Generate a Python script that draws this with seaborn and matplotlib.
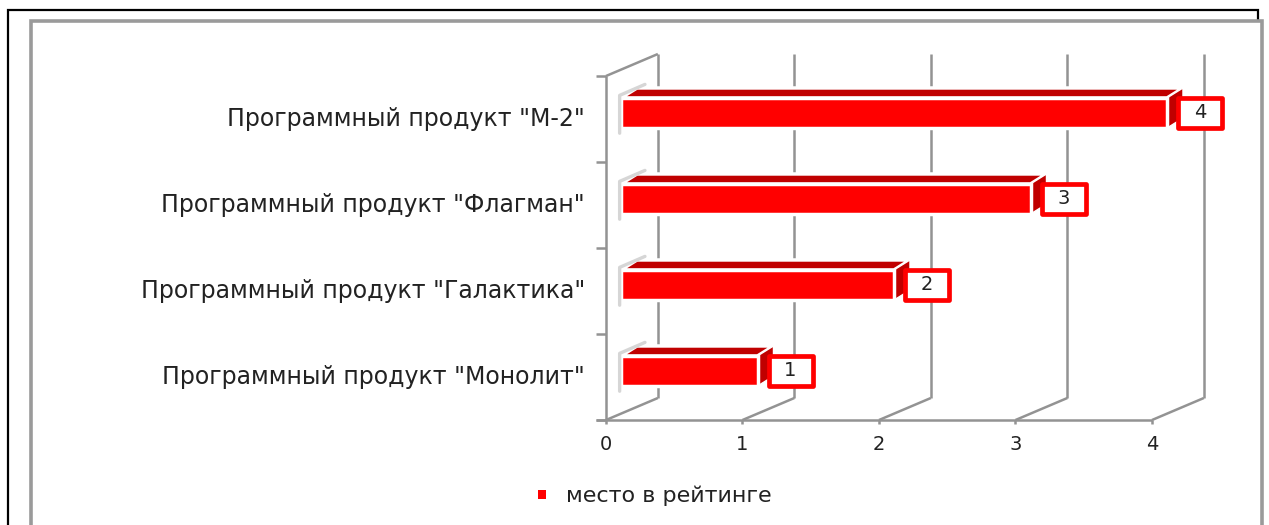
import matplotlib
matplotlib.use("Agg")
import matplotlib.pyplot as plt
import seaborn as sns
import pandas as pd
from matplotlib.patches import Rectangle, Polygon

# ---- data -------------------------------------------------------------
products = [
    'Программный продукт "М-2"',
    'Программный продукт "Флагман"',
    'Программный продукт "Галактика"',
    'Программный продукт "Монолит"',
]
rank = [4, 3, 2, 1]
x_ticks = [0, 1, 2, 3, 4]
series_name = "место в рейтинге"

# ---- styling ----------------------------------------------------------
W, H = 1269, 525
RED = "#FF0000"
DARK_RED = "#C00000"
GRID = "#939393"
TEXT = "#222222"

sns.set_theme(style="white")
plt.rcParams["font.family"] = ["DejaVu Sans"]

fig = plt.figure(figsize=(W / 100, H / 100), dpi=100)
fig.patch.set_facecolor("white")


def ffrac(x, y):
    """Pixel position (from top-left) to figure fraction."""
    return (x / W, 1 - y / H)


# page border and chart-area frame
fig.add_artist(Rectangle(ffrac(8, 700), (1258 - 8) / W, (700 - 10) / H,
                         transform=fig.transFigure, fill=False,
                         ec="black", lw=1.6, zorder=-10))
fig.add_artist(Rectangle(ffrac(31, 700), (1262 - 31) / W, (700 - 21) / H,
                         transform=fig.transFigure, fc="white",
                         ec="#9a9a9a", lw=2.6, zorder=-9))

ax = fig.add_axes([0, 0, 1, 1])
ax.patch.set_visible(False)

df = pd.DataFrame({"product": products, "rank": rank})
sns.barplot(data=df, x="rank", y="product", orient="h", order=products,
            color=RED, saturation=1, width=0.35, edgecolor="white",
            linewidth=2.5, label=series_name, ax=ax, zorder=4)

# axes scale: value units horizontally, category slots vertically
SX, X0 = 136.5, 621
SY, Y0 = 86.0, 113
ax.set_xlim(-X0 / SX, (W - X0) / SX)
ax.set_ylim((H - Y0) / SY, -Y0 / SY)
ax.set_axis_off()

# pseudo-3D geometry (in data units)
FRONT_SHIFT = -0.11          # front plane of the walls relative to bars
DEPTH_X, DEPTH_Y = 0.38, -0.256   # wall depth vector
BAND_SHIFT = 0.07            # front-plane slot offset
TOP_X, TOP_Y = 0.117, -0.116  # bar top-face depth

n = len(products)
edges = [k - 0.5 + BAND_SHIFT for k in range(n + 1)]
y_top, y_floor = edges[0], edges[-1]

def xf(v):
    return v + FRONT_SHIFT

def xb(v):
    return xf(v) + DEPTH_X

line_kw = dict(color=GRID, lw=1.8, solid_capstyle="butt", zorder=1)

# back-wall vertical gridlines and floor diagonals
for v in x_ticks:
    ax.plot([xb(v), xb(v)], [y_floor + DEPTH_Y, y_top + DEPTH_Y], **line_kw)
    ax.plot([xf(v), xb(v)], [y_floor, y_floor + DEPTH_Y], **line_kw)
    ax.plot([xf(v), xf(v)], [y_floor, y_floor + 0.05], **line_kw)
    ax.text(xf(v), (445 - Y0) / SY, str(v), ha="center", va="center",
            fontsize=14, color=TEXT)

# floor front edge, left wall edge, left ticks, wall top
ax.plot([xf(0) - 0.075, xf(x_ticks[-1])], [y_floor, y_floor], **line_kw)
ax.plot([xf(0), xf(0)], [y_top, y_floor], **line_kw)
for e in edges:
    ax.plot([xf(0) - 0.075, xf(0)], [e, e], **line_kw)
ax.plot([xf(0), xb(0)], [y_top, y_top + DEPTH_Y], **line_kw)

# category labels
for i, name in enumerate(products):
    ax.text((585 - X0) / SX, i + BAND_SHIFT, name, ha="right",
            va="center", fontsize=17, color=TEXT)

# bar depth faces, end caps and value labels
bars = [p for p in ax.patches if isinstance(p, Rectangle)][:n]
for bar, val in zip(bars, rank):
    x0, w = bar.get_x(), bar.get_width()
    y, h = bar.get_y(), bar.get_height()
    x1 = x0 + w
    top = Polygon([(x0, y), (x1, y), (x1 + TOP_X, y + TOP_Y),
                   (x0 + TOP_X, y + TOP_Y)], closed=True,
                  fc=DARK_RED, ec="white", lw=2.5, zorder=3)
    side = Polygon([(x1, y), (x1, y + h), (x1 + TOP_X, y + h + TOP_Y),
                    (x1 + TOP_X, y + TOP_Y)], closed=True,
                   fc=DARK_RED, ec="white", lw=1.0, zorder=3)
    ax.add_patch(top)
    ax.add_patch(side)
    # pale left end cap
    ax.plot([x0 - 0.01, x0 - 0.01, x0 + TOP_X * 1.5],
            [y + h + 0.06, y - 0.03, y - 0.03 + TOP_Y * 1.1],
            color="#d6d6d6", lw=2.4, zorder=5)
    cx = x1 + 0.242
    bw, bh = 0.322, 0.36
    ax.add_patch(Rectangle((cx - bw / 2, y + h / 2 - bh / 2), bw, bh,
                           fc="white", ec=RED, lw=3.4, joinstyle="round",
                           zorder=6))
    ax.text(cx, y + h / 2, f"{val:g}", ha="center", va="center",
            fontsize=14, color=TEXT, zorder=7)

# legend
leg = ax.legend(loc="center", bbox_to_anchor=ffrac(655, 496),
                bbox_transform=fig.transFigure, frameon=False,
                fontsize=16, handlelength=0.35, handleheight=0.22,
                handletextpad=0.9, labelcolor=TEXT)
for hnd in leg.legend_handles:
    hnd.set_edgecolor(RED)
    hnd.set_linewidth(0)

fig.savefig("out.png", dpi=100, facecolor="white")
